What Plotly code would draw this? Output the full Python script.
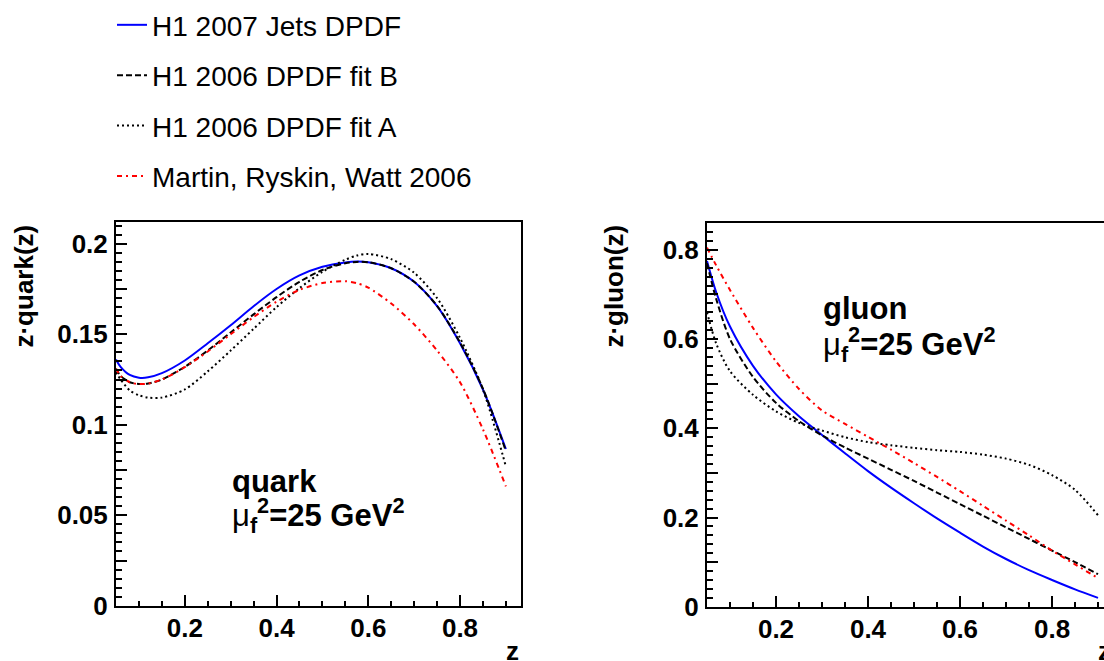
import plotly.graph_objects as go

# ---------------- data ----------------
z_q = [0.05, 0.06, 0.08, 0.10, 0.12, 0.15, 0.20, 0.25, 0.30, 0.35, 0.40, 0.45,
       0.50, 0.55, 0.575, 0.60, 0.65, 0.70, 0.75, 0.80, 0.85, 0.90]
quark_jets = [0.136, 0.132, 0.1275, 0.126, 0.1262, 0.1285, 0.1355, 0.1450, 0.1550, 0.1655,
              0.1750, 0.1825, 0.1873, 0.1897, 0.1902, 0.1898, 0.1865, 0.1790, 0.1655,
              0.1450, 0.1195, 0.0866]
quark_fitB = [0.131, 0.127, 0.1235, 0.1225, 0.1228, 0.1250, 0.1320, 0.1410, 0.1510, 0.1610,
              0.1705, 0.1790, 0.1855, 0.1893, 0.1900, 0.1898, 0.1865, 0.1790, 0.1657,
              0.1455, 0.1200, 0.0855]
quark_fitA = [0.129, 0.125, 0.119, 0.1163, 0.1150, 0.1150, 0.1195, 0.1295, 0.1410, 0.1530,
              0.1650, 0.1755, 0.1845, 0.1912, 0.1935, 0.1944, 0.1915, 0.1840, 0.1700,
              0.1480, 0.1195, 0.0770]
quark_mrw = [0.131, 0.127, 0.1235, 0.1225, 0.1228, 0.1250, 0.1318, 0.1405, 0.1500, 0.1595,
             0.1680, 0.1745, 0.1783, 0.1793, 0.1782, 0.1758, 0.1670, 0.1555, 0.1410,
             0.1235, 0.0975, 0.0660]

z_g = [0.05, 0.07, 0.10, 0.15, 0.20, 0.25, 0.30, 0.35, 0.40, 0.45, 0.50, 0.55,
       0.60, 0.65, 0.70, 0.75, 0.80, 0.85, 0.90]
gluon_jets = [0.775, 0.705, 0.628, 0.540, 0.476, 0.427, 0.385, 0.344, 0.304, 0.267, 0.232,
              0.198, 0.166, 0.135, 0.107, 0.082, 0.060, 0.039, 0.020]
gluon_fitB = [0.770, 0.690, 0.600, 0.515, 0.457, 0.416, 0.384, 0.357, 0.332, 0.307, 0.282,
              0.256, 0.230, 0.204, 0.178, 0.152, 0.126, 0.100, 0.073]
gluon_fitA = [0.660, 0.590, 0.528, 0.475, 0.438, 0.412, 0.395, 0.380, 0.369, 0.362, 0.356,
              0.351, 0.347, 0.341, 0.332, 0.318, 0.295, 0.262, 0.205]
gluon_mrw = [0.805, 0.765, 0.710, 0.625, 0.550, 0.488, 0.440, 0.410, 0.381, 0.352, 0.322,
             0.291, 0.259, 0.226, 0.193, 0.160, 0.126, 0.095, 0.064]

series_names = ["H1 2007 Jets DPDF", "H1 2006 DPDF fit B", "H1 2006 DPDF fit A",
                "Martin, Ryskin, Watt 2006"]

q_label_ticks = [0, 0.05, 0.1, 0.15, 0.2]
q_label_text = ["0", "0.05", "0.1", "0.15", "0.2"]
q_mid_ticks = [0.025, 0.075, 0.125, 0.175]
g_label_ticks = [0, 0.2, 0.4, 0.6, 0.8]
g_label_text = ["0", "0.2", "0.4", "0.6", "0.8"]
g_mid_ticks = [0.1, 0.3, 0.5, 0.7]
x_ticks = [0.2, 0.4, 0.6, 0.8]
x_ticktext = ["0.2", "0.4", "0.6", "0.8"]

# ---------------- styling ----------------
W, H = 1104, 661
FONT = "Liberation Sans, Arial, Helvetica, sans-serif"
styles = [
    dict(color="#0000ff", width=2, dash="solid"),
    dict(color="#000000", width=2, dash="6px,3px"),
    dict(color="#000000", width=2, dash="2px,3px"),
    dict(color="#ff0000", width=2, dash="5px,4px,2px,4px"),
]

fig = go.Figure()
quark_sets = [quark_jets, quark_fitB, quark_fitA, quark_mrw]
gluon_sets = [gluon_jets, gluon_fitB, gluon_fitA, gluon_mrw]
for i, (name, st) in enumerate(zip(series_names, styles)):
    fig.add_trace(go.Scatter(x=z_q, y=quark_sets[i], mode="lines", name=name,
                             line=dict(shape="spline", smoothing=0.8, **st),
                             legendgroup=f"g{i}", showlegend=True,
                             xaxis="x", yaxis="y"))
for i, (name, st) in enumerate(zip(series_names, styles)):
    fig.add_trace(go.Scatter(x=z_g, y=gluon_sets[i], mode="lines", name=name,
                             line=dict(shape="spline", smoothing=0.8, **st),
                             legendgroup=f"g{i}", showlegend=False,
                             xaxis="x2", yaxis="y2"))
# empty helpers so the overlay tick axes exist
fig.add_trace(go.Scatter(x=[], y=[], xaxis="x", yaxis="y3", showlegend=False,
                         hoverinfo="skip"))
fig.add_trace(go.Scatter(x=[], y=[], xaxis="x2", yaxis="y4", showlegend=False,
                         hoverinfo="skip"))


def px_x(p):
    return p / W


def px_y(p):
    return (H - p) / H


tickfont = dict(family=FONT, size=26, color="black", weight="bold")
common_x = dict(showgrid=False, zeroline=False, showline=True, linecolor="black",
                linewidth=2, ticks="inside", ticklen=11, tickwidth=2, tickcolor="black",
                tickmode="array", tickvals=x_ticks, ticktext=x_ticktext,
                tickfont=tickfont, automargin=False, ticklabelstandoff=-2,
                minor=dict(dtick=0.05, tick0=0, ticks="inside", ticklen=5,
                           tickwidth=2, tickcolor="black", showgrid=False))


def yax(domain, rng, tickvals, ticktext, minor_dtick, anchor, mirror):
    return dict(domain=domain, range=rng, anchor=anchor,
                showgrid=False, zeroline=False, showline=True, mirror=mirror,
                linecolor="black", linewidth=2, ticks="inside", ticklen=11,
                tickwidth=2, tickcolor="black", tickmode="array", tickvals=tickvals,
                ticktext=ticktext, tickfont=tickfont, automargin=False,
                ticklabelstandoff=1,
                minor=dict(dtick=minor_dtick, tick0=0, ticks="inside", ticklen=6,
                           tickwidth=2, tickcolor="black", showgrid=False))


def ymid(over, anchor, rng, tickvals):
    return dict(overlaying=over, anchor=anchor, range=rng, side="left",
                showgrid=False, zeroline=False, showline=False, ticks="inside",
                ticklen=11, tickwidth=2, tickcolor="black", tickmode="array",
                tickvals=tickvals, showticklabels=False, automargin=False)


fig.update_layout(
    width=W, height=H,
    margin=dict(l=0, r=0, t=0, b=0),
    paper_bgcolor="white", plot_bgcolor="white",
    font=dict(family=FONT, color="black"),
    showlegend=True,
    legend=dict(x=px_x(112), y=1.0 + 9 / H, xanchor="left", yanchor="top",
                font=dict(family=FONT, size=28, color="black"),
                bgcolor="rgba(0,0,0,0)", traceorder="grouped",
                tracegroupgap=11, borderwidth=0),
    xaxis=dict(domain=[px_x(116), px_x(521)], range=[0.05, 0.933], mirror=True,
               anchor="y", **common_x),
    yaxis=yax([px_y(605), px_y(216)], [0, 0.212], q_label_ticks, q_label_text,
              0.005, "x", True),
    yaxis3=ymid("y", "x", [0, 0.212], q_mid_ticks),
    xaxis2=dict(domain=[px_x(707), 1.0], range=[0.05, 0.913], mirror=True,
                anchor="y2", **common_x),
    yaxis2=yax([px_y(606), px_y(217)], [0, 0.86], g_label_ticks, g_label_text,
               0.02, "x2", False),
    yaxis4=ymid("y2", "x2", [0, 0.86], g_mid_ticks),
)

title_font = dict(family=FONT, size=26, color="black", weight="bold")
label_font = dict(family=FONT, size=31, color="black", weight="bold")
mu = '<span style="font-weight:normal">μ</span>'
annotations = [
    # y-axis titles (right aligned at top, ROOT style)
    dict(text="z·quark(z)", x=px_x(24), y=px_y(217), xref="paper", yref="paper",
         xanchor="center", yanchor="top", textangle=-90, showarrow=False, font=title_font),
    dict(text="z·gluon(z)", x=px_x(614), y=px_y(217), xref="paper", yref="paper",
         xanchor="center", yanchor="top", textangle=-90, showarrow=False, font=title_font),
    # x-axis titles
    dict(text="z", x=px_x(521), y=px_y(651), xref="paper", yref="paper",
         xanchor="right", yanchor="middle", showarrow=False, font=title_font),
    dict(text="z", x=px_x(1113), y=px_y(651), xref="paper", yref="paper",
         xanchor="right", yanchor="middle", showarrow=False, font=title_font),
    # panel labels
    dict(text="quark", x=px_x(230), y=px_y(479), xref="paper", yref="paper",
         xanchor="left", yanchor="middle", showarrow=False, font=label_font),
    dict(text=mu + "<sub>f</sub><sup>2</sup>=25 GeV<sup>2</sup>", x=px_x(230),
         y=px_y(513), xref="paper", yref="paper", xanchor="left", yanchor="middle",
         showarrow=False, font=label_font),
    dict(text="gluon", x=px_x(821), y=px_y(304), xref="paper", yref="paper",
         xanchor="left", yanchor="middle", showarrow=False, font=label_font),
    dict(text=mu + "<sub>f</sub><sup>2</sup>=25 GeV<sup>2</sup>", x=px_x(821),
         y=px_y(340), xref="paper", yref="paper", xanchor="left", yanchor="middle",
         showarrow=False, font=label_font),
]
fig.update_layout(annotations=annotations)

fig.write_html("out.html", config={"displayModeBar": False},
               post_script="document.body.style.margin='0';")
